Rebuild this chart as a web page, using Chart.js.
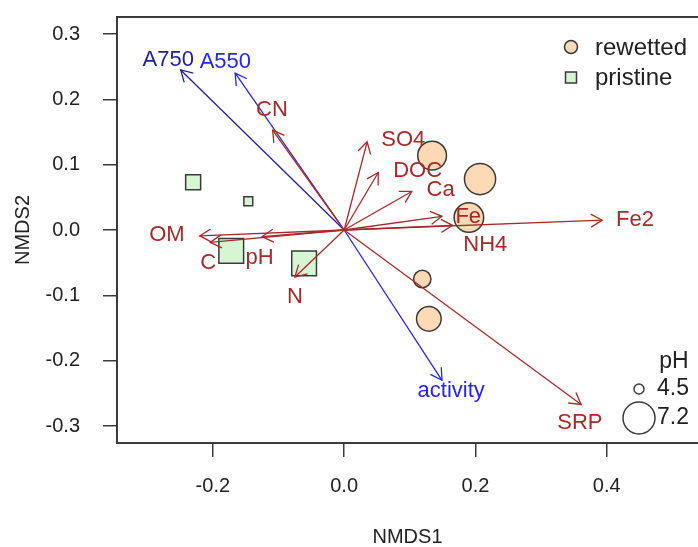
<!DOCTYPE html>
<html>
<head>
<meta charset="utf-8">
<script src="https://cdn.jsdelivr.net/npm/chart.js@4.4.1/dist/chart.umd.min.js"></script>
<style>
  html, body { margin: 0; padding: 0; background: #fff; }
</style>
</head>
<body>
<canvas id="myChart" width="698" height="547"></canvas>
<script>
// Site scores (NMDS1, NMDS2) and pH of each site
const rewettedX = [0.134, 0.207, 0.190, 0.119, 0.129];
const rewettedY = [0.114, 0.078, 0.019, -0.075, -0.136];
const rewettedPH = [6.8, 7.1, 6.9, 5.4, 6.3];

const pristineX = [-0.230, -0.146, -0.172, -0.061];
const pristineY = [0.073, 0.044, -0.032, -0.051];
const pristinePH = [5.35, 4.5, 6.7, 6.7];

// Environmental fitted vectors (arrow tips) and their label positions
const envNames = ['CN', 'SO4', 'DOC', 'Ca', 'Fe', 'Fe2', 'NH4', 'OM', 'C', 'pH', 'N', 'SRP'];
const envX = [-0.109, 0.035, 0.052, 0.103, 0.149, 0.393, 0.165, -0.220, -0.204, -0.125, -0.075, 0.361];
const envY = [0.153, 0.135, 0.088, 0.059, 0.021, 0.015, 0.007, -0.009, -0.019, -0.010, -0.072, -0.267];
const envLabelX = [-0.110, 0.090, 0.112, 0.147, 0.189, 0.443, 0.215, -0.270, -0.207, -0.129, -0.075, 0.359];
const envLabelY = [0.184, 0.138, 0.090, 0.061, 0.020, 0.015, -0.023, -0.008, -0.051, -0.043, -0.102, -0.296];

// Activity vectors
const actNames = ['A750', 'A550', 'activity'];
const actX = [-0.249, -0.166, 0.149];
const actY = [0.245, 0.240, -0.230];
const actLabelX = [-0.268, -0.181, 0.163];
const actLabelY = [0.260, 0.257, -0.247];
const actColors = ['#20209a', '#2626e6', '#2626e6'];

// Axis ticks
const xTicks = [-0.2, 0.0, 0.2, 0.4];
const yTicks = [-0.3, -0.2, -0.1, 0.0, 0.1, 0.2, 0.3];

// Legend pH values
const phLegend = [4.5, 7.2];

const envColor = '#a52a2a';
const fontFamily = "'Liberation Sans', Arial, Helvetica, sans-serif";
const axisColor = '#3a3a3a';

// marker diameter (px) for a pH value
function phDiameter(ph) {
    return 10 + (ph - 4.5) / 2.7 * 22;
}

const vectors = [];
envNames.forEach((n, i) => vectors.push({ name: n, x: envX[i], y: envY[i], lx: envLabelX[i], ly: envLabelY[i], color: envColor }));
actNames.forEach((n, i) => vectors.push({ name: n, x: actX[i], y: actY[i], lx: actLabelX[i], ly: actLabelY[i], color: actColors[i] }));

const arrowDatasets = vectors.map(v => ({
    type: 'scatter',
    showLine: true,
    data: [{ x: 0, y: 0 }, { x: v.x, y: v.y }],
    borderColor: v.color,
    borderWidth: 1.3,
    pointRadius: 0,
    order: 0
}));

const pointDatasets = [
    {
        label: 'rewetted',
        data: rewettedX.map((x, i) => ({ x, y: rewettedY[i] })),
        pointStyle: 'circle',
        pointRadius: rewettedPH.map(p => phDiameter(p) / 2),
        backgroundColor: '#fdd9b6',
        borderColor: axisColor,
        borderWidth: 1.5,
        order: 1
    },
    {
        label: 'pristine',
        data: pristineX.map((x, i) => ({ x, y: pristineY[i] })),
        pointStyle: 'rect',
        // square side ~0.886 * circle diameter, like R pch 22 vs 21
        pointRadius: pristinePH.map(p => phDiameter(p) * 0.886 / Math.SQRT2),
        backgroundColor: '#d6f5d3',
        borderColor: axisColor,
        borderWidth: 1.5,
        order: 1
    }
];

// Arrow heads, labels, plot box and legends
const ordiPlugin = {
    id: 'ordi',
    afterDatasetsDraw(chart) {
        const { ctx, chartArea, scales: { x, y } } = chart;
        ctx.save();

        // plot box (right side runs off the image)
        ctx.strokeStyle = axisColor;
        ctx.lineWidth = 2;
        ctx.beginPath();
        ctx.moveTo(chartArea.right + 5, chartArea.top);
        ctx.lineTo(chartArea.left, chartArea.top);
        ctx.lineTo(chartArea.left, chartArea.bottom);
        ctx.lineTo(chartArea.right + 5, chartArea.bottom);
        ctx.stroke();

        const x0 = x.getPixelForValue(0), y0 = y.getPixelForValue(0);
        const head = 13;
        vectors.forEach(v => {
            const x1 = x.getPixelForValue(v.x), y1 = y.getPixelForValue(v.y);
            const ang = Math.atan2(y1 - y0, x1 - x0);
            ctx.strokeStyle = v.color;
            ctx.lineWidth = 1.3;
            ctx.beginPath();
            ctx.moveTo(x1 - head * Math.cos(ang - Math.PI / 6), y1 - head * Math.sin(ang - Math.PI / 6));
            ctx.lineTo(x1, y1);
            ctx.lineTo(x1 - head * Math.cos(ang + Math.PI / 6), y1 - head * Math.sin(ang + Math.PI / 6));
            ctx.stroke();
        });

        ctx.font = '22px ' + fontFamily;
        ctx.textAlign = 'center';
        ctx.textBaseline = 'middle';
        vectors.forEach(v => {
            ctx.fillStyle = v.color;
            ctx.fillText(v.name, x.getPixelForValue(v.lx), y.getPixelForValue(v.ly));
        });

        // group legend
        ctx.font = '24px ' + fontFamily;
        ctx.textAlign = 'left';
        ctx.lineWidth = 1.5;
        ctx.strokeStyle = axisColor;
        ctx.fillStyle = '#fdd9b6';
        ctx.beginPath();
        ctx.arc(571, 47, 6.5, 0, Math.PI * 2);
        ctx.fill();
        ctx.stroke();
        ctx.fillStyle = '#d6f5d3';
        ctx.fillRect(565.5, 72, 11, 11);
        ctx.strokeRect(565.5, 72, 11, 11);
        ctx.fillStyle = '#222';
        ctx.fillText('rewetted', 595, 48);
        ctx.fillText('pristine', 595, 78);

        // pH size legend
        ctx.font = '23px ' + fontFamily;
        ctx.textAlign = 'center';
        ctx.fillText('pH', 674, 362);
        ctx.textAlign = 'left';
        const rows = [389, 418];
        phLegend.forEach((p, i) => {
            ctx.beginPath();
            ctx.arc(639, rows[i], phDiameter(p) / 2, 0, Math.PI * 2);
            ctx.stroke();
            ctx.fillText(p.toFixed(1), 657, rows[i]);
        });

        ctx.restore();
    }
};

Chart.defaults.font.family = fontFamily;
Chart.defaults.color = '#222';

function createChart() {
    const ctx = document.getElementById('myChart').getContext('2d');
    new Chart(ctx, {
        type: 'scatter',
        data: { datasets: [...arrowDatasets, ...pointDatasets] },
        options: {
            responsive: false,
            devicePixelRatio: 1,
            animation: false,
            layout: { autoPadding: false, padding: { top: 17, left: 0, right: 0, bottom: 0 } },
            plugins: {
                legend: { display: false },
                tooltip: { enabled: false }
            },
            scales: {
                x: {
                    type: 'linear',
                    min: -0.346,
                    max: 0.539,
                    afterBuildTicks: s => { s.ticks = xTicks.map(v => ({ value: v })); },
                    afterFit: s => { s.height = 104; s.paddingLeft = 0; s.paddingRight = 0; },
                    border: { display: false },
                    grid: { drawOnChartArea: false, drawTicks: true, tickLength: 14, color: axisColor, lineWidth: 1.5 },
                    ticks: { padding: 17, font: { size: 20 }, color: '#222', callback: v => v.toFixed(1) },
                    title: { display: true, text: 'NMDS1', font: { size: 20, lineHeight: 1 }, color: '#222', padding: { top: 0, bottom: 0 } }
                },
                y: {
                    type: 'linear',
                    min: -0.326,
                    max: 0.326,
                    afterBuildTicks: s => { s.ticks = yTicks.map(v => ({ value: v })); },
                    afterFit: s => { s.width = 117; s.paddingTop = 0; s.paddingBottom = 0; },
                    border: { display: false },
                    grid: { drawOnChartArea: false, drawTicks: true, tickLength: 14, color: axisColor, lineWidth: 1.5 },
                    ticks: { padding: 23, font: { size: 20 }, color: '#222', callback: v => v.toFixed(1) },
                    title: { display: true, text: 'NMDS2', font: { size: 20, lineHeight: 1 }, color: '#222', padding: { top: 13, bottom: 0 } }
                }
            }
        },
        plugins: [ordiPlugin]
    });
}

createChart();
</script>
</body>
</html>
